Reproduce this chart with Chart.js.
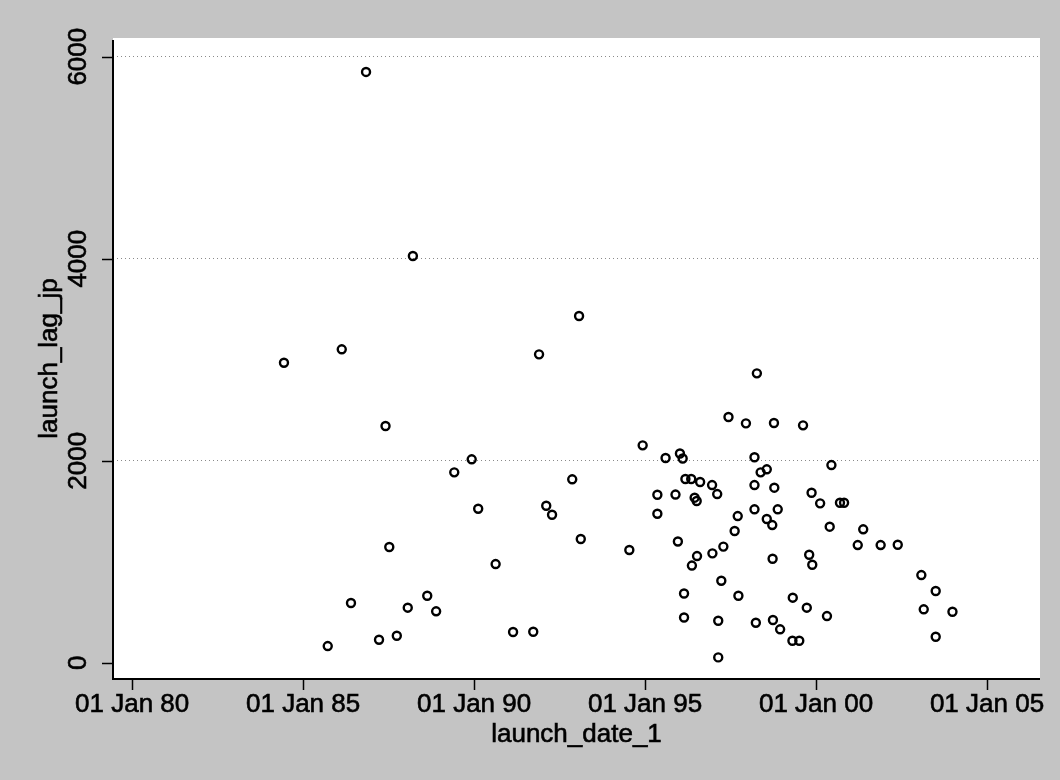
<!DOCTYPE html>
<html>
<head>
<meta charset="utf-8">
<script src="https://cdn.jsdelivr.net/npm/chart.js@4.4.1/dist/chart.umd.min.js"></script>
<style>
  html, body { margin: 0; padding: 0; background: #c4c4c4; }
  #wrap { width: 1060px; height: 780px; position: relative; }
</style>
</head>
<body>
<div id="wrap"><canvas id="chart"></canvas></div>
<script>
// launch date as decimal year, launch lag in days
const launchDate = [1984.44, 1985.72, 1986.13, 1986.40, 1986.84, 1987.22, 1987.41, 1987.52, 1987.74, 1988.06,
  1988.21, 1988.63, 1988.89, 1989.42, 1989.93, 1990.12, 1990.63, 1991.14, 1991.73, 1991.90,
  1992.11, 1992.28, 1992.87, 1993.07, 1993.12, 1994.54, 1994.93, 1995.36, 1995.36, 1995.60,
  1996.02, 1996.10, 1995.89, 1995.96, 1996.14, 1996.14, 1996.18, 1996.35, 1996.61, 1996.45,
  1996.51, 1996.52, 1996.37, 1996.96, 1997.11, 1996.97, 1997.29, 1997.23, 1997.14, 1997.14,
  1997.44, 1997.62, 1997.71, 1997.73, 1997.95, 1998.20, 1998.20, 1998.20, 1998.27, 1998.24,
  1998.38, 1998.56, 1998.56, 1998.72, 1998.73, 1998.74, 1998.77, 1998.78, 1998.88, 1998.95,
  1999.32, 1999.31, 1999.51, 1999.62, 1999.73, 1999.80, 1999.89, 1999.87, 2000.12, 2000.32,
  2000.40, 2000.45, 2000.70, 2000.82, 2001.22, 2001.38, 2001.89, 2002.39, 2003.08, 2003.15,
  2003.50, 2003.50, 2003.99];
const launchLag = [2970, 165, 3103, 591, 5849, 228, 2344, 1146, 267, 545,
  4027, 663, 509, 1885, 2014, 1525, 977, 304, 307, 3053,
  1554, 1465, 1816, 3433, 1225, 1116, 2152, 1663, 1475, 2027,
  2071, 2022, 1665, 1200, 685, 448, 1819, 1819, 1789, 1634,
  1601, 1056, 962, 1759, 1670, 1083, 1150, 812, 416, 53,
  2433, 1304, 1452, 663, 2370, 2034, 1759, 1519, 2865, 396,
  1885, 1915, 1423, 1363, 1030, 423, 2373, 1733, 1519, 331,
  644, 218, 218, 2350, 545, 1069, 970, 1683, 1578, 462,
  1347, 1957, 1584, 1584, 1165, 1321, 1165, 1168, 868, 529,
  710, 257, 505];

const xTickYears = [1980, 1985, 1990, 1995, 2000, 2005];
const xTickLabels = ["01 Jan 80", "01 Jan 85", "01 Jan 90", "01 Jan 95", "01 Jan 00", "01 Jan 05"];
const yTickValues = [0, 2000, 4000, 6000];

const xTitle = "launch_date_1";
const yTitle = "launch_lag_jp";

let points = launchDate.map((d, i) => ({ x: d, y: launchLag[i] }));

const FONT = '26px "Liberation Sans", Arial, sans-serif';

// white plot region
const plotBackground = {
  id: "plotBackground",
  beforeDraw(chart) {
    let ctx = chart.ctx;
    let a = chart.chartArea;
    ctx.save();
    ctx.fillStyle = "#ffffff";
    ctx.fillRect(a.left, a.top, a.right - a.left, a.bottom - a.top);
    ctx.restore();
  }
};

// stata-like axes: lines, ticks, rotated y labels, titles
const stataAxes = {
  id: "stataAxes",
  afterDraw(chart) {
    let ctx = chart.ctx;
    let a = chart.chartArea;
    let x = chart.scales.x;
    let y = chart.scales.y;
    ctx.save();
    ctx.strokeStyle = "#000";
    ctx.lineWidth = 2;
    ctx.beginPath();
    ctx.moveTo(a.left, a.top + 2);
    ctx.lineTo(a.left, a.bottom);
    ctx.lineTo(a.right, a.bottom);
    ctx.stroke();

    ctx.lineWidth = 1.5;
    ctx.beginPath();
    xTickYears.forEach(v => {
      let px = Math.round(x.getPixelForValue(v)) + 0.5;
      ctx.moveTo(px, a.bottom);
      ctx.lineTo(px, a.bottom + 11);
    });
    yTickValues.forEach(v => {
      let py = Math.round(y.getPixelForValue(v)) + 0.5;
      ctx.moveTo(a.left - 11, py);
      ctx.lineTo(a.left, py);
    });
    ctx.stroke();

    ctx.fillStyle = "#000";
    ctx.strokeStyle = "#000";
    ctx.lineWidth = 0.6;
    ctx.font = FONT;
    ctx.textAlign = "center";
    ctx.textBaseline = "alphabetic";
    xTickYears.forEach((v, i) => {
      let px = x.getPixelForValue(v);
      ctx.fillText(xTickLabels[i], px, a.bottom + 33);
      ctx.strokeText(xTickLabels[i], px, a.bottom + 33);
    });
    ctx.fillText(xTitle, (a.left + a.right) / 2, a.bottom + 63);
    ctx.strokeText(xTitle, (a.left + a.right) / 2, a.bottom + 63);

    yTickValues.forEach(v => {
      ctx.save();
      ctx.translate(a.left - 27, y.getPixelForValue(v));
      ctx.rotate(-Math.PI / 2);
      ctx.fillText(String(v), 0, 0);
      ctx.strokeText(String(v), 0, 0);
      ctx.restore();
    });
    ctx.save();
    ctx.translate(a.left - 56, (a.top + a.bottom) / 2);
    ctx.rotate(-Math.PI / 2);
    ctx.fillText(yTitle, 0, 0);
    ctx.strokeText(yTitle, 0, 0);
    ctx.restore();
    ctx.restore();
  }
};

let ctx = document.getElementById("chart").getContext("2d");
let chart = new Chart(ctx, {
  type: "scatter",
  data: {
    datasets: [{
      label: yTitle,
      data: points,
      pointStyle: "circle",
      pointRadius: 4,
      pointBorderWidth: 2.4,
      pointBackgroundColor: "rgba(0,0,0,0)",
      pointBorderColor: "#000",
      pointHoverRadius: 4
    }]
  },
  options: {
    responsive: true,
    maintainAspectRatio: false,
    animation: false,
    devicePixelRatio: 1,
    layout: { padding: { left: 113, top: 38, right: 20, bottom: 101 } },
    plugins: { legend: { display: false }, tooltip: { enabled: false } },
    scales: {
      x: {
        type: "linear",
        min: 1979.44,
        max: 2006.55,
        grid: { display: false, drawTicks: false },
        border: { display: false },
        ticks: { display: false },
        afterBuildTicks: s => { s.ticks = xTickYears.map(v => ({ value: v })); }
      },
      y: {
        type: "linear",
        min: -161,
        max: 6185,
        grid: {
          drawTicks: false,
          lineWidth: 1,
          color: c => (c.tick && c.tick.value === 0) ? "rgba(0,0,0,0)" : "#8a8a8a"
        },
        border: { display: false, dash: [1, 3] },
        ticks: { display: false },
        afterBuildTicks: s => { s.ticks = yTickValues.map(v => ({ value: v })); }
      }
    }
  },
  plugins: [plotBackground, stataAxes]
});
</script>
</body>
</html>
